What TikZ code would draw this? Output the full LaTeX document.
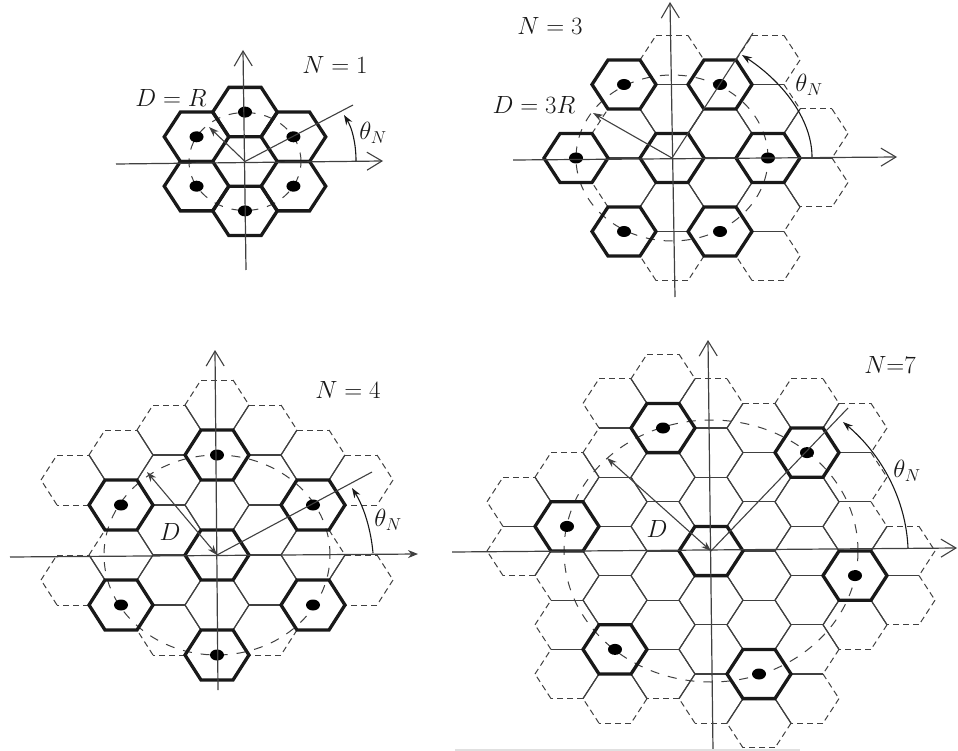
\documentclass[tikz,border=0pt]{standalone}
\usepackage{fontspec}
\setmainfont{Liberation Serif}
\usetikzlibrary{arrows.meta}
\definecolor{ink}{gray}{0.10}
\definecolor{thinink}{gray}{0.25}
\tikzset{
  cellsolid/.style={draw=thinink,line width=1.1pt},
  celldash/.style={draw=thinink,line width=1pt,dash pattern=on 6pt off 4pt},
  cothick/.style={draw=ink,line width=3.3pt,line join=miter},
  reuse/.style={draw=thinink,line width=1pt,dash pattern=on 9pt off 9pt},
  axis/.style={draw=thinink,line width=1.2pt,-{Straight Barb[length=15pt,width=18pt,line width=1.1pt]}},
  ray/.style={draw=thinink,line width=1.1pt},
  sweep/.style={draw=ink,line width=1.1pt,-{Stealth[length=10pt,width=7pt]}},
  span/.style={draw=thinink,line width=1.1pt,-{Stealth[length=10pt,width=7pt]}},
  twospan/.style={draw=thinink,line width=1.1pt,{Stealth[length=10pt,width=7pt]}-{Stealth[length=10pt,width=7pt]}},
  lab/.style={text=ink,inner sep=0pt,font=\fontsize{24}{28}\selectfont},
  site/.style={fill=black,draw=none},
  smudge/.style={draw=black!12,line width=3pt}
}
% all cells of a panel: an edge shared by two cells is solid, a free edge is dashed
\newcommand{\cellnet}[6]{%
  \foreach \hc/\hr in {#6}{\expandafter\gdef\csname cell@#1@\hc @\hr\endcsname{}}%
  \foreach \hc/\hr in {#6}{%
    \pgfmathsetmacro\cx{#2+1.5*#4*\hc}\pgfmathsetmacro\cy{#3+#5*\hr}%
    \foreach \dc/\dr/\ax/\ay/\bx/\by in {0/-2/-.5/-1/.5/-1,1/-1/.5/-1/1/0,1/1/1/0/.5/1,0/2/.5/1/-.5/1,-1/1/-.5/1/-1/0,-1/-1/-1/0/-.5/-1}{%
      \pgfmathtruncatemacro\nc{\hc+\dc}\pgfmathtruncatemacro\nr{\hr+\dr}%
      \ifcsname cell@#1@\nc @\nr\endcsname\def\est{cellsolid}\else\def\est{celldash}\fi
      \draw[\est] ({\cx+(\ax)*#4},{\cy+(\ay)*#5}) -- ({\cx+(\bx)*#4},{\cy+(\by)*#5});
    }%
  }%
}
% thick co-channel cells, with or without a site dot
\newcommand{\thickcells}[5]{%
  \foreach \hc/\hr in {#5}{%
    \pgfmathsetmacro\cx{#1+1.5*#3*\hc}\pgfmathsetmacro\cy{#2+#4*\hr}%
    \draw[cothick] ({\cx-#3},{\cy}) -- ({\cx-#3/2},{\cy-#4}) -- ({\cx+#3/2},{\cy-#4}) -- ({\cx+#3},{\cy}) -- ({\cx+#3/2},{\cy+#4}) -- ({\cx-#3/2},{\cy+#4}) -- cycle;
  }%
}
\newcommand{\sites}[5]{%
  \foreach \hc/\hr in {#5}{%
    \pgfmathsetmacro\cx{#1+1.5*#3*\hc}\pgfmathsetmacro\cy{#2+#4*\hr}%
    \fill[site] (\cx,\cy) ellipse [x radius=7pt,y radius=5.5pt];
  }%
}
\begin{document}
\begin{tikzpicture}[x=1pt,y=-1pt]
\useasboundingbox (0,0) rectangle (958,751);
\fill[white] (0,0) rectangle (958,751);

% ---------- N = 1
\coordinate (o1) at (245,161.5);
\cellnet{a}{245}{161.5}{32.3}{24.7}{0/0,0/-2,0/2,-1/-1,1/-1,-1/1,1/1}
\draw[reuse] (o1) ellipse [x radius=56pt,y radius=49pt];
\thickcells{245}{161.5}{32.3}{24.7}{0/-2,0/2,-1/-1,1/-1,-1/1,1/1}
\sites{245}{161.5}{32.3}{24.7}{0/-2,0/2,-1/-1,1/-1,-1/1,1/1}
\coordinate (a1l) at (116,164); \coordinate (a1r) at (383,161);
\coordinate (a1b) at (246,270); \coordinate (a1t) at (243,50);
\coordinate (r1) at (353,105); \coordinate (s1) at (356,161);
\coordinate (t1) at (344,115); \coordinate (d1) at (209,127);
\draw[axis] (a1l) -- (a1r);
\draw[axis] (a1b) -- (a1t);
\draw[ray] (o1) -- (r1);
\draw[span] (o1) -- (d1);
\draw[sweep] (s1) .. controls (356,143) and (352,128) .. (t1);
\node[lab] (n1) at (335,65) {$N = 1$};
\node[lab] (m1) at (171,98) {$D = R$};
\node[lab] (h1) at (373,133) {$\theta_N$};

% ---------- N = 3
\coordinate (o2) at (672,158);
\cellnet{b}{672}{158}{32}{24.5}{0/0,0/-2,0/2,-1/-1,1/-1,-1/1,1/1,-1/-3,1/-3,-1/3,1/3,-2/0,2/0,2/-2,2/2,0/-4,0/4,2/-4,2/4,3/-1,3/1}
\draw[reuse] (o2) ellipse [x radius=96pt,y radius=83pt];
\thickcells{672}{158}{32}{24.5}{0/0,-1/-3,1/-3,-1/3,1/3,-2/0,2/0}
\sites{672}{158}{32}{24.5}{-1/-3,1/-3,-1/3,1/3,-2/0,2/0}
\coordinate (a2l) at (513,160); \coordinate (a2r) at (897,157);
\coordinate (a2b) at (675,297); \coordinate (a2t) at (670,2);
\coordinate (r2) at (753,33); \coordinate (s2) at (812,157);
\coordinate (t2) at (742,55); \coordinate (d2) at (593,113);
\draw[axis] (a2l) -- (a2r);
\draw[axis] (a2b) -- (a2t);
\draw[ray] (o2) -- (r2);
\draw[span] (o2) -- (d2);
\draw[sweep] (s2) .. controls (812,122) and (786,84) .. (t2);
\node[lab] (n2) at (550,26) {$N = 3$};
\node[lab] (m2) at (534,105) {$D = 3R$};
\node[lab] (h2) at (809,85) {$\theta_N$};

% ---------- N = 4
\coordinate (o3) at (217,555);
\cellnet{c}{217}{555}{32}{25}{0/0,0/-2,0/2,0/-4,0/4,0/-6,-1/-1,1/-1,-1/1,1/1,-1/-3,1/-3,-1/3,1/3,-1/-5,1/-5,-2/0,2/0,-2/-2,2/-2,-2/2,2/2,-2/-4,2/-4,-3/-3,3/-3,-3/1,3/1}
\draw[reuse] (o3) ellipse [x radius=113pt,y radius=100pt];
\thickcells{217}{555}{32}{25}{0/0,0/-4,0/4,-2/-2,2/-2,-2/2,2/2}
\sites{217}{555}{32}{25}{0/-4,0/4,-2/-2,2/-2,-2/2,2/2}
\coordinate (a3l) at (10,557); \coordinate (a3r) at (418,554);
\coordinate (a3b) at (218,690); \coordinate (a3t) at (215,350);
\coordinate (r3) at (372,472); \coordinate (s3) at (373,553);
\coordinate (t3) at (352,488); \coordinate (d3) at (147,472);
\draw[draw=thinink,line width=1.2pt,-{Stealth[length=10pt,width=8pt]}] (a3l) -- (a3r);
\draw[axis] (a3b) -- (a3t);
\draw[ray] (o3) -- (r3);
\draw[twospan] (o3) -- (d3);
\draw[sweep] (s3) .. controls (371,530) and (364,507) .. (t3);
\node[lab] (n3) at (348,390) {$N = 4$};
\node[lab] (m3) at (170,532) {$D$};
\node[lab] (h3) at (388,520) {$\theta_N$};

% ---------- N = 7
\coordinate (o4) at (711,551);
\cellnet{d}{711}{551}{32}{24.6}{-4/-2,-4/0,-3/-3,-3/-1,-3/1,-3/3,-3/5,-2/-6,-2/-4,-2/-2,-2/0,-2/2,-2/4,-2/6,-1/-7,-1/-5,-1/-3,-1/-1,-1/1,-1/3,-1/5,0/-6,0/-4,0/-2,0/0,0/2,0/4,0/6,1/-5,1/-3,1/-1,1/1,1/3,1/5,1/7,2/-6,2/-4,2/-2,2/0,2/2,2/4,2/6,3/-5,3/-3,3/-1,3/1,3/3,4/0,4/2}
\draw[reuse] (o4) ellipse [x radius=147pt,y radius=131pt];
\thickcells{711}{551}{32}{24.6}{0/0,-1/-5,2/-4,-3/-1,3/1,-2/4,1/5}
\sites{711}{551}{32}{24.6}{-1/-5,2/-4,-3/-1,3/1,-2/4,1/5}
\coordinate (a4l) at (452,552); \coordinate (a4r) at (957,548);
\coordinate (a4b) at (713,751); \coordinate (a4t) at (708,340);
\coordinate (r4) at (848,408); \coordinate (s4) at (908,548);
\coordinate (t4) at (843,422); \coordinate (d4) at (607,458);
\draw[axis] (a4l) -- (a4r);
\draw[axis] (a4b) -- (a4t);
\draw[ray] (o4) -- (r4);
\draw[twospan] (o4) -- (d4);
\draw[sweep] (s4) .. controls (906,500) and (882,455) .. (t4);
\node[lab] (n4) at (890,365) {$N{=}7$};
\node[lab] (m4) at (657,529) {$D$};
\node[lab] (h4) at (907,471) {$\theta_N$};
\coordinate (b1) at (455,750); \coordinate (b2) at (800,750);
\draw[smudge] (b1) -- (b2);
\end{tikzpicture}
\end{document}
